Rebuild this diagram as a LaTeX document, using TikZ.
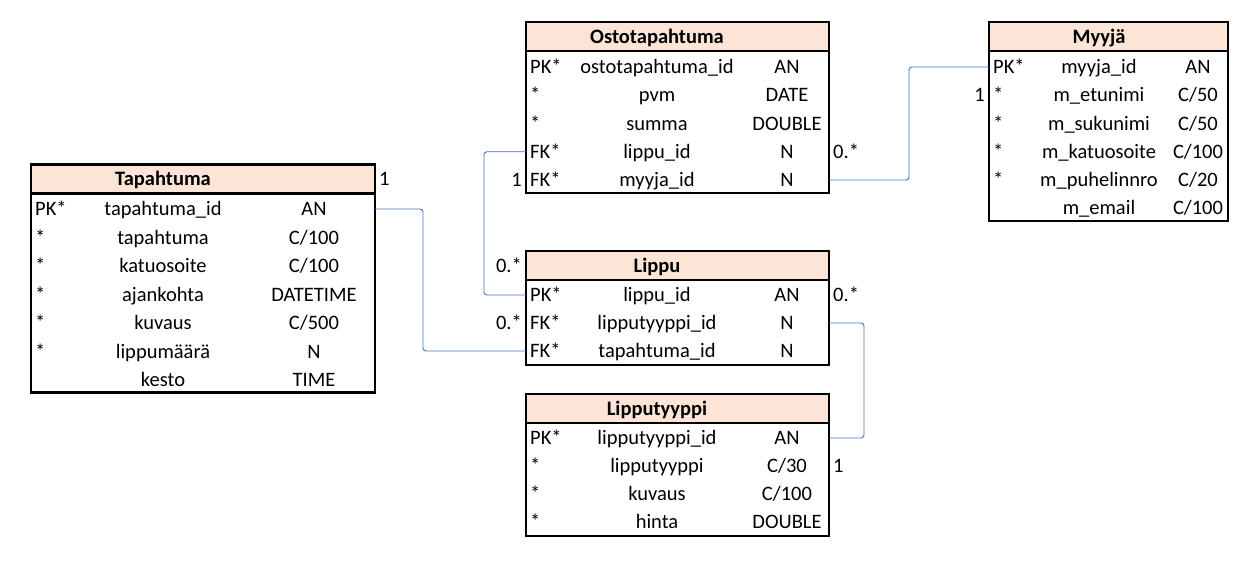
\documentclass[tikz,border=0pt]{standalone}
\usepackage{fontspec}
\setmainfont{Carlito}[Scale=2.05]
\usepackage{xcolor}
\usepackage{tikz}
\usetikzlibrary{positioning}

\definecolor{otsikkovari}{HTML}{FCE4D6}
\definecolor{viivavari}{HTML}{4472C4}

\begin{document}
\begin{tikzpicture}[x=1pt, y=-1pt,
    taulu/.style={draw, rectangle, line width=2.2pt, inner sep=0pt, outer sep=0pt},
    otsikko/.style={taulu, fill=otsikkovari, minimum height=29pt},
    rivi/.style={rectangle, inner sep=0pt, outer sep=0pt, minimum height=28pt},
    teksti/.style={inner sep=2pt, text height=17pt, text depth=3.8pt},
    avain/.style={teksti, anchor=west, xshift=2pt},
    yhteys/.style={draw=viivavari, line width=0.9pt, rounded corners=3pt}]
    \useasboundingbox (0,0) rectangle (1256,563);

    % Tapahtuma
    \node[otsikko, minimum width=344pt] (tap) at (203,179) {};
    \node[taulu, minimum width=344pt, minimum height=199pt, anchor=north] (tap-b) at (tap.south) {};
    \node[teksti] at ([xshift=132pt]tap.west) {\textbf{Tapahtuma}};
    \foreach \k/\n/\t [count=\i] in {PK*/tapahtuma\_id/AN, */tapahtuma/{C/100}, */katuosoite/{C/100},
        */ajankohta/DATETIME, */kuvaus/{C/500}, */lippumäärä/N, {}/kesto/TIME} {
        \node[rivi, minimum width=344pt] (tap-\i) at (203,{209+(\i-1)*28.5}) {};
        \node[avain] at (tap-\i.west) {\k};
        \node[teksti] at ([xshift=132pt]tap-\i.west) {\n};
        \node[teksti] at ([xshift=283pt]tap-\i.west) {\t};
    }

    % Ostotapahtuma
    \node[otsikko, minimum width=303pt] (osto) at (677.5,36.5) {};
    \node[taulu, minimum width=303pt, minimum height=142pt, anchor=north] (osto-b) at (osto.south) {};
    \node[teksti] at ([xshift=131pt]osto.west) {\textbf{Ostotapahtuma}};
    \foreach \k/\n/\t [count=\i] in {PK*/ostotapahtuma\_id/AN, */pvm/DATE, */summa/DOUBLE,
        FK*/lippu\_id/N, FK*/myyja\_id/N} {
        \node[rivi, minimum width=303pt] (osto-\i) at (677.5,{67+(\i-1)*28.25}) {};
        \node[avain] at (osto-\i.west) {\k};
        \node[teksti] at ([xshift=131pt]osto-\i.west) {\n};
        \node[teksti] at ([xshift=261pt]osto-\i.west) {\t};
    }

    % Myyjä
    \node[otsikko, minimum width=239pt] (myyja) at (1108.5,36.5) {};
    \node[taulu, minimum width=239pt, minimum height=170pt, anchor=north] (myyja-b) at (myyja.south) {};
    \node[teksti] at ([xshift=110pt]myyja.west) {\textbf{Myyjä}};
    \foreach \k/\n/\t [count=\i] in {PK*/myyja\_id/AN, */m\_etunimi/{C/50}, */m\_sukunimi/{C/50},
        */m\_katuosoite/{C/100}, */m\_puhelinnro/{C/20}, {}/m\_email/{C/100}} {
        \node[rivi, minimum width=239pt] (myyja-\i) at (1108.5,{67+(\i-1)*28.2}) {};
        \node[avain] at (myyja-\i.west) {\k};
        \node[teksti] at ([xshift=110pt]myyja-\i.west) {\n};
        \node[teksti] at ([xshift=209pt]myyja-\i.west) {\t};
    }

    % Lippu
    \node[otsikko, minimum width=303pt] (lippu) at (677.5,265.5) {};
    \node[taulu, minimum width=303pt, minimum height=85pt, anchor=north] (lippu-b) at (lippu.south) {};
    \node[teksti] at ([xshift=131pt]lippu.west) {\textbf{Lippu}};
    \foreach \k/\n/\t [count=\i] in {PK*/lippu\_id/AN, FK*/lipputyyppi\_id/N, FK*/tapahtuma\_id/N} {
        \node[rivi, minimum width=303pt] (lippu-\i) at (677.5,{295+(\i-1)*28}) {};
        \node[avain] at (lippu-\i.west) {\k};
        \node[teksti] at ([xshift=131pt]lippu-\i.west) {\n};
        \node[teksti] at ([xshift=261pt]lippu-\i.west) {\t};
    }

    % Lipputyyppi
    \node[otsikko, minimum width=303pt] (ltyyppi) at (677.5,408.5) {};
    \node[taulu, minimum width=303pt, minimum height=113pt, anchor=north] (ltyyppi-b) at (ltyyppi.south) {};
    \node[teksti] at ([xshift=131pt]ltyyppi.west) {\textbf{Lipputyyppi}};
    \foreach \k/\n/\t [count=\i] in {PK*/lipputyyppi\_id/AN, */lipputyyppi/{C/30}, */kuvaus/{C/100}, */hinta/DOUBLE} {
        \node[rivi, minimum width=303pt] (ltyyppi-\i) at (677.5,{438+(\i-1)*28}) {};
        \node[avain] at (ltyyppi-\i.west) {\k};
        \node[teksti] at ([xshift=131pt]ltyyppi-\i.west) {\n};
        \node[teksti] at ([xshift=261pt]ltyyppi-\i.west) {\t};
    }

    % Yhteydet
    \draw[yhteys] (tap-1.east) -- ++(48,0) |- (lippu-3.west);
    \draw[yhteys] (osto-4.west) -- ++(-42,0) |- (lippu-1.west);
    \draw[yhteys] (osto-5.east) -- ++(80,0) |- (myyja-1.west);
    \draw[yhteys] (lippu-2.east) -- ++(35,0) |- (ltyyppi-1.east);

    % Kardinaliteetit
    \node[teksti, anchor=west] at ([xshift=2pt]tap.east) {1};
    \node[teksti, anchor=east] at ([xshift=-2pt]lippu.west) {0.*};
    \node[teksti, anchor=east] at ([xshift=-2pt]lippu-2.west) {0.*};
    \node[teksti, anchor=east] at ([xshift=-2pt]osto-5.west) {1};
    \node[teksti, anchor=west] at ([xshift=2pt]osto-4.east) {0.*};
    \node[teksti, anchor=east] at ([xshift=-2pt]myyja-2.west) {1};
    \node[teksti, anchor=west] at ([xshift=2pt]lippu-1.east) {0.*};
    \node[teksti, anchor=west] at ([xshift=2pt]ltyyppi-2.east) {1};
\end{tikzpicture}
\end{document}
